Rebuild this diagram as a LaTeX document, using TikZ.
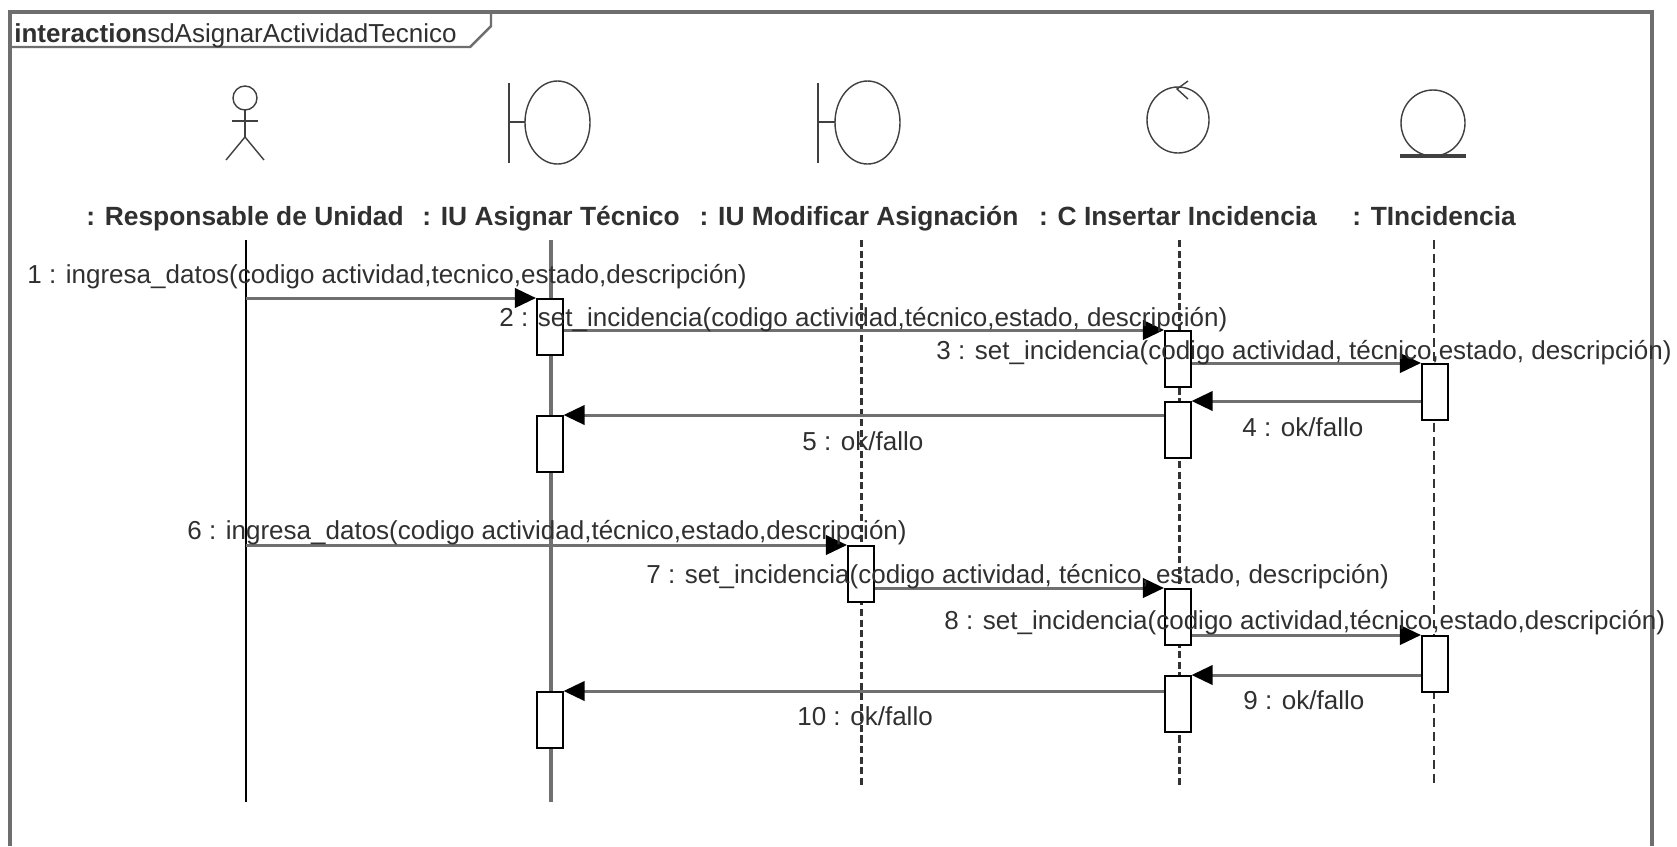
\documentclass[tikz,border=0pt]{standalone}
\usepackage{fontspec}
\setmainfont{Liberation Sans}
\usetikzlibrary{arrows.meta,calc}
\definecolor{frameGray}{HTML}{6E6E6E}
\definecolor{msgGray}{HTML}{707070}
\definecolor{labelGray}{HTML}{303030}
\tikzset{
  actbox/.style={draw=black, fill=white, line width=0.9pt, minimum width=0.52cm, minimum height=1.12cm, inner sep=0pt, anchor=north west},
  msg/.style={draw=msgGray, line width=1.7pt, -{Triangle[length=12pt,width=11pt,color=black]}},
  msglabel/.style={font=\fontsize{14.8}{16}\selectfont, text=labelGray, inner sep=0pt, anchor=base west},
  headlabel/.style={font=\fontsize{15}{17}\selectfont\bfseries, text=labelGray, inner sep=0pt, anchor=base},
  icon/.style={draw=black!75, line width=0.8pt}
}

\begin{document}
\begin{tikzpicture}[x=0.02cm, y=-0.02cm, line cap=butt]
  \useasboundingbox (0,0) rectangle (1677,846);
  \fill[white] (0,0) rectangle (1677,846);

  % Frame and name tab
  \draw[frameGray, line width=2pt] (10,846) -- (10,12) -- (1652,12) -- (1652,846);
  \draw[frameGray, line width=1.4pt] (10,47) -- (470,47) -- (491,26) -- (491,12);
  \node[font=\fontsize{14.8}{16}\selectfont, text=labelGray, inner sep=0pt, anchor=base west] (frameName) at (14,42) {\textbf{interaction}sdAsignarActividadTecnico};

  % Actor
  \draw[icon] (245,98) circle (12);
  \draw[icon] (245,110) -- (245,137);
  \draw[icon] (232,121) -- (258,121);
  \draw[icon] (226,160) -- (245,137) -- (264,160);

  % Boundary objects
  \draw[icon, line width=1.6pt] (509,83) -- (509,163);
  \draw[icon] (509,122) -- (525,122);
  \draw[icon] (557.5,122.5) ellipse (32.5 and 41.5);
  \draw[icon, line width=1.6pt] (818,83) -- (818,163);
  \draw[icon] (818,122) -- (835,122);
  \draw[icon] (867.5,122.5) ellipse (32.5 and 41.5);

  % Control object
  \draw[icon] (1178,120) ellipse (31 and 33);
  \draw[icon] (1188,81) -- (1177,89) -- (1188,99);

  % Entity object
  \draw[icon] (1433,123) ellipse (32 and 33);
  \draw[icon, line width=2pt] (1400,156) -- (1466,156);

  % Lifeline heads
  \node[headlabel] (headActor) at (245,225) {: Responsable de Unidad};
  \node[headlabel] (headAsignar) at (551,225) {: IU Asignar Técnico};
  \node[headlabel] (headModificar) at (859,225) {: IU Modificar Asignación};
  \node[headlabel] (headControl) at (1178,225) {: C Insertar Incidencia};
  \node[headlabel] (headEntity) at (1434,225) {: TIncidencia};

  \coordinate (topActor) at (246,240);
  \coordinate (topAsignar) at (551,240);
  \coordinate (topModificar) at (861,240);
  \coordinate (topControl) at (1179,240);
  \coordinate (topEntity) at (1434,240);
  \coordinate (endActor) at (246,802);
  \coordinate (endAsignar) at (551,802);
  \coordinate (endModificar) at (861,786);
  \coordinate (endControl) at (1179,786);
  \coordinate (endEntity) at (1434,786);

  % Lifelines
  \draw[black, line width=0.7pt] (topActor) -- (endActor);
  \draw[msgGray, line width=2pt] (topAsignar) -- (endAsignar);
  \draw[black!80, line width=1.7pt, dash pattern=on 4pt off 2pt] (topModificar) -- (endModificar);
  \draw[black!80, line width=1.7pt, dash pattern=on 4pt off 2pt] (topControl) -- (endControl);
  \draw[black!80, line width=0.9pt, dash pattern=on 5pt off 3pt] (topEntity) -- (endEntity);

  % Activation boxes
  \node[actbox] (actA) at (536,298) {};
  \node[actbox] (actB) at (536,415) {};
  \node[actbox] (actC) at (536,691) {};
  \node[actbox] (actD) at (847,545) {};
  \node[actbox] (actE) at (1164,330) {};
  \node[actbox] (actF) at (1164,401) {};
  \node[actbox] (actG) at (1164,588) {};
  \node[actbox] (actH) at (1164,675) {};
  \node[actbox] (actI) at (1421,363) {};
  \node[actbox] (actJ) at (1421,635) {};

  % Messages
  \draw[msg] (topActor |- actA.north west) -- (actA.north west);
  \draw[msg] (actA.east |- actE.north west) -- (actE.north west);
  \draw[msg] (actE.east |- actI.north west) -- (actI.north west);
  \draw[msg] (actI.west |- actF.north east) -- (actF.north east);
  \draw[msg] (actF.west |- actB.north east) -- (actB.north east);
  \draw[msg] (topActor |- actD.north west) -- (actD.north west);
  \draw[msg] (actD.east |- actG.north west) -- (actG.north west);
  \draw[msg] (actG.east |- actJ.north west) -- (actJ.north west);
  \draw[msg] (actJ.west |- actH.north east) -- (actH.north east);
  \draw[msg] (actH.west |- actC.north east) -- (actC.north east);

  % Message labels
  \node[msglabel] (msgOne) at (27,283) {1 : ingresa\_datos(codigo actividad,tecnico,estado,descripción)};
  \node[msglabel] (msgTwo) at (499,326) {2 : set\_incidencia(codigo actividad,técnico,estado, descripción)};
  \node[msglabel] (msgThree) at (936,359) {3 : set\_incidencia(codigo actividad, técnico,estado, descripción)};
  \node[msglabel] (msgFour) at (1242,436) {4 : ok/fallo};
  \node[msglabel] (msgFive) at (802,450) {5 : ok/fallo};
  \node[msglabel] (msgSix) at (187,539) {6 : ingresa\_datos(codigo actividad,técnico,estado,descripción)};
  \node[msglabel] (msgSeven) at (646,583) {7 : set\_incidencia(codigo actividad, técnico, estado, descripción)};
  \node[msglabel] (msgEight) at (944,629) {8 : set\_incidencia(codigo actividad,técnico,estado,descripción)};
  \node[msglabel] (msgNine) at (1243,709) {9 : ok/fallo};
  \node[msglabel] (msgTen) at (797,725) {10 : ok/fallo};
\end{tikzpicture}
\end{document}
